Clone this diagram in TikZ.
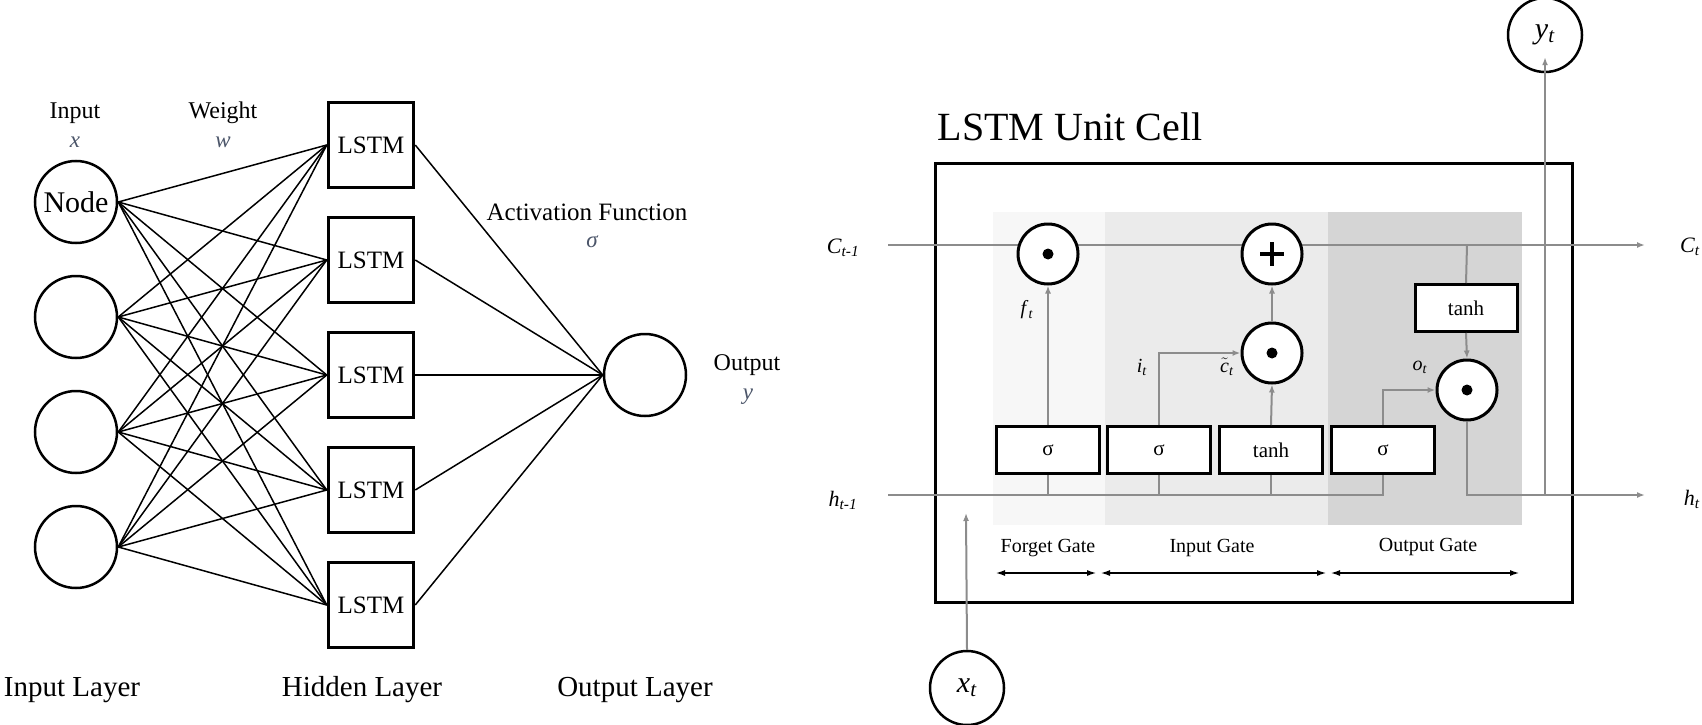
\documentclass[tikz,border=0pt]{standalone}
\usepackage{fontspec}
\setmainfont{Liberation Serif}
\usetikzlibrary{arrows.meta,calc}
\definecolor{lblue}{RGB}{75,85,105}
\definecolor{wirec}{RGB}{140,140,140}
\definecolor{fgshade}{RGB}{247,247,247}
\definecolor{igshade}{RGB}{235,235,235}
\definecolor{ogshade}{RGB}{213,213,213}
\newcommand{\fsz}[1]{\fontsize{#1}{#1}\selectfont}
\newcommand{\isub}[2]{\textit{#1}\textsubscript{\textit{#2}}}
\begin{document}
\begin{tikzpicture}[x=1pt,y=-1pt,
  inode/.style={circle,draw,line width=2.5,minimum size=82,inner sep=0,font=\fsz{30}},
  lstmbox/.style={rectangle,draw,line width=3.5,minimum width=85,minimum height=85,inner sep=0,font=\fsz{25}},
  wconn/.style={line width=1.5},
  txt/.style={inner sep=0,font=\fsz{24}},
  ltxt/.style={inner sep=0,font=\fsz{29}},
  vartxt/.style={inner sep=0,font=\fsz{23}\itshape,text=lblue},
  gatebox/.style={rectangle,draw,line width=3,fill=white,minimum width=103,minimum height=47,inner sep=0,font=\fsz{21}},
  opnode/.style={circle,draw,line width=3,fill=white,minimum size=60,inner sep=0},
  ionode/.style={circle,draw,line width=2.5,fill=white,minimum width=74,minimum height=70,inner sep=0,font=\fsz{30}},
  wire/.style={draw=wirec,line width=2},
  warrow/.style={wire,-{Latex[length=8,width=6]}},
  gtxt/.style={inner sep=0,font=\fsz{20}},
  garrow/.style={line width=2,{Latex[length=10,width=6]}-{Latex[length=10,width=6]}},
  mlbl/.style={inner sep=0,font=\fsz{22}}
]
\useasboundingbox (0,0) rectangle (1702,725);

% ---------------- Left: network ----------------
\node[inode] (inA) at (76,202) {Node};
\node[inode] (inB) at (76,317) {};
\node[inode] (inC) at (76,432) {};
\node[inode] (inD) at (76,547) {};
\foreach \k/\y in {1/145,2/260,3/375,4/490,5/605}
  \node[lstmbox] (h\k) at (371,\y) {LSTM};
\node[inode] (outn) at (645,375) {};

\foreach \i in {inA,inB,inC,inD}
  \foreach \k in {1,...,5}
    \draw[wconn] (\i.east) -- (h\k.west);
\foreach \k in {1,...,5}
  \draw[wconn] (h\k.east) -- (outn.west);

\node[txt] (tInput) at (75,113) {Input};
\node[vartxt] (tx) at (75,142) {x};
\node[txt] (tWeight) at (223,113) {Weight};
\node[vartxt] (tw) at (223,142) {w};
\node[txt,font=\fsz{25}] (tAct) at (587,212) {Activation Function};
\node[vartxt] (tsig) at (592,242) {σ};
\node[txt] (tOut) at (747,365) {Output};
\node[vartxt] (ty) at (748,397) {y};
\node[ltxt] (lIn) at (72,690) {Input Layer};
\node[ltxt] (lHid) at (362,690) {Hidden Layer};
\node[ltxt] (lOut) at (635,690) {Output Layer};

% ---------------- Right: LSTM cell ----------------
\fill[fgshade] (993,212) rectangle (1105,525);
\fill[igshade] (1105,212) rectangle (1328,525);
\fill[ogshade] (1328,212) rectangle (1522,525);
\draw[line width=3] (935,163) rectangle (1572,602);
\node[inner sep=0,font=\fsz{40}] (title) at (1070,127) {LSTM Unit Cell};

\coordinate (cin) at (888,245);
\coordinate (cout) at (1645,245);
\coordinate (hin) at (888,495);
\coordinate (hout) at (1645,495);
\coordinate (ctap) at (1467,245);
\coordinate (htap) at (1545,495);
\coordinate (xtip) at (966,513);

\draw[warrow] (cin) -- (cout);

\node[gatebox] (sf) at (1048,450) {σ};
\node[gatebox] (si) at (1159,450) {σ};
\node[gatebox] (ti) at (1271,450) {tanh};
\node[gatebox] (so) at (1383,450) {σ};
\node[gatebox,minimum width=102] (to) at (1466,308) {tanh};

\node[opnode] (fmul) at (1048,254) {};
\node[opnode] (add) at (1272,254) {};
\node[opnode] (imul) at (1272,353) {};
\node[opnode] (omul) at (1467,390) {};
\foreach \n in {fmul,imul,omul} \fill (\n.center) circle (5.5);
\draw[line width=3.2] ($(add.center)+(-12,0)$) -- ($(add.center)+(12,0)$);
\draw[line width=3.2] ($(add.center)+(0,-12)$) -- ($(add.center)+(0,12)$);

\draw[wire] (hin) -- (hin -| so.south) -- (so.south);
\foreach \n in {sf,si,ti} \draw[wire] (\n.south) -- (\n.south |- hin);
\draw[warrow] (sf.north) -- (fmul.south);
\draw[warrow] (si.north) -- (si.north |- imul.west) -- (imul.west);
\draw[warrow] (ti.north) -- (imul.south);
\draw[warrow] (imul.north) -- (add.south);
\draw[wire] (ctap) -- (to.north);
\draw[warrow] (to.south) -- (omul.north);
\draw[warrow] (so.north) -- (so.north |- omul.west) -- (omul.west);
\draw[warrow] (omul.south) -- (omul.south |- hout) -- (hout);

\node[ionode] (yt) at (1545,35) {\isub{y}{t}};
\node[ionode] (xt) at (967,688) {\isub{x}{t}};
\draw[warrow,shorten >=-16] (htap) -- (yt.south);
\draw[warrow] (xt.north) -- (xtip);

\node[mlbl] (lCin) at (843,248) {\isub{C}{t-1}};
\node[mlbl] (lCout) at (1690,247) {\isub{C}{t}};
\node[mlbl] (lhin) at (843,500) {\isub{h}{t-1}};
\node[mlbl] (lhout) at (1692,499) {\isub{h}{t}};
\node[mlbl,font=\fsz{20}] (lf) at (1027,310) {\isub{f}{t}};
\node[mlbl,font=\fsz{20}] (li) at (1142,367) {\isub{i}{t}};
\node[mlbl,font=\fsz{20}] (lc) at (1227,367) {$\tilde{\mbox{\itshape c}}$\textsubscript{\textit{t}}};
\node[mlbl,font=\fsz{20}] (lo) at (1420,367) {\isub{o}{t}};

\node[gtxt] (gF) at (1048,548) {Forget Gate};
\node[gtxt] (gI) at (1212,548) {Input Gate};
\node[gtxt] (gO) at (1428,547) {Output Gate};
\coordinate (fa) at (995,573); \coordinate (fb) at (1097,573);
\coordinate (ia) at (1100,573); \coordinate (ib) at (1327,573);
\coordinate (oa) at (1330,573); \coordinate (ob) at (1520,573);
\draw[garrow] (fa) -- (fb);
\draw[garrow] (ia) -- (ib);
\draw[garrow] (oa) -- (ob);
\end{tikzpicture}
\end{document}
